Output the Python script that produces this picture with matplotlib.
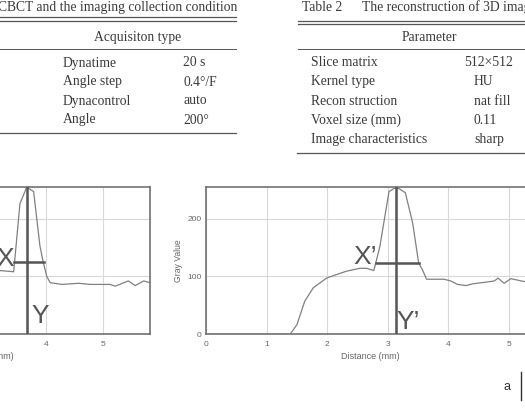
import matplotlib.pyplot as plt
from matplotlib.lines import Line2D

# gray value profile, left panel (cropped at the left edge)
left_x = [3.00, 3.19, 3.43, 3.54, 3.66, 3.78, 3.89, 3.95, 4.01, 4.07, 4.28, 4.57,
          4.77, 5.12, 5.21, 5.44, 5.56, 5.71, 5.82]
left_y = [112, 110, 108, 226, 255, 247, 153, 124, 100, 89, 86, 88,
          86, 86, 83, 92, 84, 92, 89]

# gray value profile, right panel
right_x = [0.00, 1.39, 1.50, 1.63, 1.77, 1.99, 2.15, 2.32, 2.54, 2.65, 2.77, 2.87,
           3.02, 3.11, 3.19, 3.29, 3.41, 3.51, 3.57, 3.64, 3.74, 3.93, 4.04, 4.15,
           4.29, 4.40, 4.62, 4.76, 4.82, 4.92, 5.03, 5.25, 5.45]
right_y = [0, 0, 16, 57, 80, 97, 103, 109, 114, 114, 110, 152,
           247, 253, 252, 245, 193, 123, 112, 95, 95, 95, 92, 86,
           84, 87, 90, 92, 97, 88, 96, 91, 93]

# FWHM markers: (x_start, x_end, half height, peak position)
left_marker = (3.44, 3.96, 125, 3.67)
right_marker = (2.80, 3.51, 124, 3.13)

# table contents
table1_title = "CBCT and the imaging collection condition"
table1_header = "Acquisiton type"
table1_keys = ["Dynatime", "Angle step", "Dynacontrol", "Angle"]
table1_vals = ["20 s", "0.4\u00b0/F", "auto", "200\u00b0"]

table2_title = ["Table 2", "The reconstruction of 3D image"]
table2_header = "Parameter"
table2_keys = ["Slice matrix", "Kernel type", "Recon struction", "Voxel size (mm)",
               "Image characteristics"]
table2_vals = ["512\u00d7512", "HU", "nat fill", "0.11", "sharp"]

W, H = 525, 411
fig = plt.figure(figsize=(W / 100, H / 100), dpi=100)


def fx(px):
    return px / W


def fy(py):
    return 1 - py / H


serif = "Liberation Serif"
sans = "Liberation Sans"
tcol = "#3a3a3a"
tsize = 9.8


def hline(x0, x1, py, lw=0.9):
    fig.add_artist(Line2D([fx(x0), fx(x1)], [fy(py), fy(py)],
                          transform=fig.transFigure, color="#555555", lw=lw))


# ---- table 1 ----
fig.text(fx(-2), fy(8), table1_title, family=serif, size=tsize, color=tcol,
         ha="left", va="center")
hline(0, 236, 17.3)
hline(0, 236, 20.7)
fig.text(fx(138), fy(37.5), table1_header, family=serif, size=tsize, color=tcol,
         ha="center", va="center")
hline(0, 236, 49, lw=0.7)
for i, (k, v) in enumerate(zip(table1_keys, table1_vals)):
    yy = 63 + i * 19
    fig.text(fx(63), fy(yy), k, family=serif, size=tsize, color=tcol, va="center")
    fig.text(fx(183), fy(yy), v, family=serif, size=tsize, color=tcol, va="center")
hline(0, 236, 133.5)

# ---- table 2 ----
fig.text(fx(302), fy(7.5), table2_title[0], family=serif, size=tsize, color=tcol,
         va="center")
fig.text(fx(362), fy(7.5), table2_title[1], family=serif, size=tsize, color=tcol,
         va="center")
hline(298, 525, 20.7)
hline(298, 525, 24)
fig.text(fx(429), fy(37.5), table2_header, family=serif, size=tsize, color=tcol,
         ha="center", va="center")
hline(298, 525, 49, lw=0.7)
for i, (k, v) in enumerate(zip(table2_keys, table2_vals)):
    yy = 62.7 + i * 19.2
    fig.text(fx(311), fy(yy), k, family=serif, size=tsize, color=tcol, va="center")
    xv = 464 if i == 0 else 474
    fig.text(fx(xv), fy(yy), v, family=serif, size=tsize, color=tcol, va="center")
hline(297, 525, 153)


# ---- profile plots ----
def profile(ax, xs, ys, marker, xmax, lab_x, lab_y, lab_pos):
    ax.plot(xs, ys, color="#808080", lw=0.9, zorder=3)
    x0, x1, half, peak = marker
    ax.plot([x0, x1], [half, half], color="#555555", lw=1.8, zorder=4)
    ax.plot([peak, peak], [0, 255], color="#555555", lw=1.8, zorder=4)
    ax.text(lab_pos[0], lab_pos[1], lab_x, family=sans, size=19, color="#555555",
            ha="center", va="center", zorder=5)
    ax.text(lab_pos[2], lab_pos[3], lab_y, family=sans, size=19, color="#555555",
            ha="center", va="center", zorder=5)
    ax.set_xlim(0, xmax)
    ax.set_ylim(0, 255)
    ax.set_xticks([0, 1, 2, 3, 4, 5])
    ax.set_yticks([0, 100, 200])
    ax.grid(True, color="#d8d8d8", lw=0.8)
    ax.set_axisbelow(True)
    for s in ax.spines.values():
        s.set_color("#666666")
        s.set_linewidth(1.1)
    ax.tick_params(length=0, labelsize=6, labelcolor="#666666", pad=5)
    ax.tick_params(axis="y", pad=3)
    for t in ax.get_xticklabels() + ax.get_yticklabels():
        t.set_family(sans)
    ax.set_xlabel("Distance (mm)", family=sans, size=6.5, color="#666666", labelpad=3)
    ax.set_ylabel("Gray Value", family=sans, size=6.2, color="#666666", labelpad=3)


ax1 = fig.add_axes([fx(-182), fy(334), fx(332), 147 / H])
profile(ax1, left_x, left_y, left_marker, 5.82, "X", "Y", (3.28, 130, 3.90, 32))

ax2 = fig.add_axes([fx(206), fy(334), fx(329), 147 / H])
profile(ax2, right_x, right_y, right_marker, 5.43, "X\u2019", "Y\u2019",
        (2.62, 134, 3.34, 21))

# panel letter
fig.text(fx(507), fy(387), "a", family=sans, size=9, color="#333333",
         ha="center", va="center")
fig.add_artist(Line2D([fx(521), fx(521)], [fy(372), fy(400)],
                      transform=fig.transFigure, color="#333333", lw=1))

fig.savefig("out.png", dpi=100)
